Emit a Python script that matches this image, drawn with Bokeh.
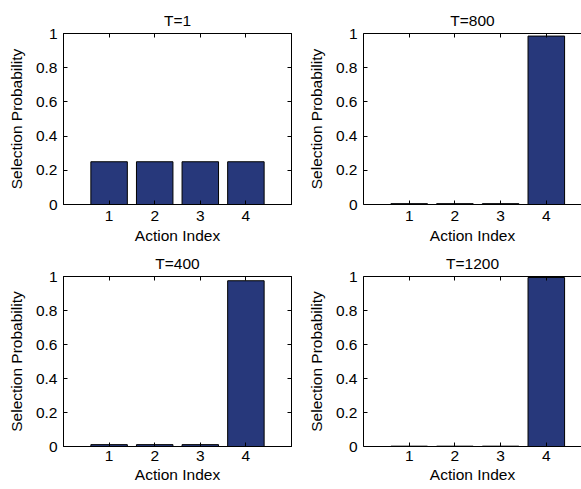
from bokeh.plotting import figure
from bokeh.layouts import gridplot
from bokeh.models import LinearAxis, FixedTicker, ColumnDataSource
from bokeh.embed import file_html
from bokeh.resources import INLINE

actions = [1, 2, 3, 4]
prob_t1 = [0.25, 0.25, 0.25, 0.25]
prob_t800 = [0.005, 0.005, 0.005, 0.985]
prob_t400 = [0.011, 0.011, 0.011, 0.975]
prob_t1200 = [0.002, 0.002, 0.002, 0.994]
titles = ["T=1", "T=800", "T=400", "T=1200"]
y_ticks = [0, 0.2, 0.4, 0.6, 0.8, 1]
y_tick_labels = ["0", "0.2", "0.4", "0.6", "0.8", "1"]
x_label = "Action Index"
y_label = "Selection Probability"

FONT = "Liberation Sans"
FS = "15.5px"
BAR_COLOR = "#27387b"


def style_axis(ax, show_labels, ticks):
    ax.ticker = FixedTicker(ticks=ticks)
    ax.major_tick_in = 4
    ax.major_tick_out = 0
    ax.minor_tick_line_color = None
    ax.axis_line_color = "black"
    ax.axis_line_width = 1
    ax.major_tick_line_color = "black"
    ax.major_label_text_font = FONT
    ax.axis_label_text_font = FONT
    ax.axis_label_text_font_size = FS
    ax.axis_label_text_font_style = "normal"
    ax.axis_label_text_color = "black"
    if show_labels:
        ax.major_label_text_font_size = FS
        ax.major_label_text_color = "black"
    else:
        ax.major_label_text_font_size = "1px"
        ax.major_label_text_color = None
        ax.major_label_standoff = 0


def make_panel(title, values, left_col, top_row):
    if left_col:
        width, x_end, b_left, b_right = 292, 5, 63, 1
    else:
        width, x_end, b_left, b_right = 289, 4.77, 71, 0
    if top_row:
        height, b_top, b_bottom = 248, 33, 44
        tick_sd, label_sd = 6, 3
    else:
        height, b_bottom = 241, 43
        b_top = 27 if left_col else 25
        tick_sd, label_sd = 4, 2
    p = figure(width=width, height=height, x_range=(0, x_end), y_range=(0, 1),
               output_backend="svg", toolbar_location=None,
               x_axis_location=None, y_axis_location=None,
               min_border_left=b_left, min_border_right=b_right,
               min_border_top=b_top, min_border_bottom=b_bottom)
    p.outline_line_color = "black" if left_col else None
    p.outline_line_width = 1
    p.xgrid.visible = False
    p.ygrid.visible = False
    p.background_fill_color = "white"
    p.border_fill_color = "white"

    src = ColumnDataSource(dict(x=actions, top=values))
    p.vbar(x="x", top="top", width=0.8, source=src,
           fill_color=BAR_COLOR, line_color="black", line_width=1)

    left = LinearAxis(axis_label=y_label)
    style_axis(left, True, y_ticks)
    left.major_label_overrides = {t: s for t, s in zip(y_ticks, y_tick_labels)}
    left.major_label_standoff = 6
    left.axis_label_standoff = 8
    p.add_layout(left, "left")

    bottom = LinearAxis(axis_label=x_label)
    style_axis(bottom, True, actions)
    bottom.major_label_standoff = tick_sd
    bottom.axis_label_standoff = label_sd
    p.add_layout(bottom, "below")

    top = LinearAxis()
    style_axis(top, False, actions)
    p.add_layout(top, "above")

    if left_col:
        right = LinearAxis()
        style_axis(right, False, y_ticks)
        p.add_layout(right, "right")

    p.title.text = title
    p.title.align = "center"
    p.title.text_font = FONT
    p.title.text_font_size = FS
    p.title.text_font_style = "normal"
    p.title.text_color = "black"
    p.title.standoff = 9
    return p


p1 = make_panel(titles[0], prob_t1, True, True)
p2 = make_panel(titles[1], prob_t800, False, True)
p3 = make_panel(titles[2], prob_t400, True, False)
p4 = make_panel(titles[3], prob_t1200, False, False)

layout = gridplot([[p1, p2], [p3, p4]], toolbar_location=None)

open("out.html", "w").write(file_html(layout, INLINE))
